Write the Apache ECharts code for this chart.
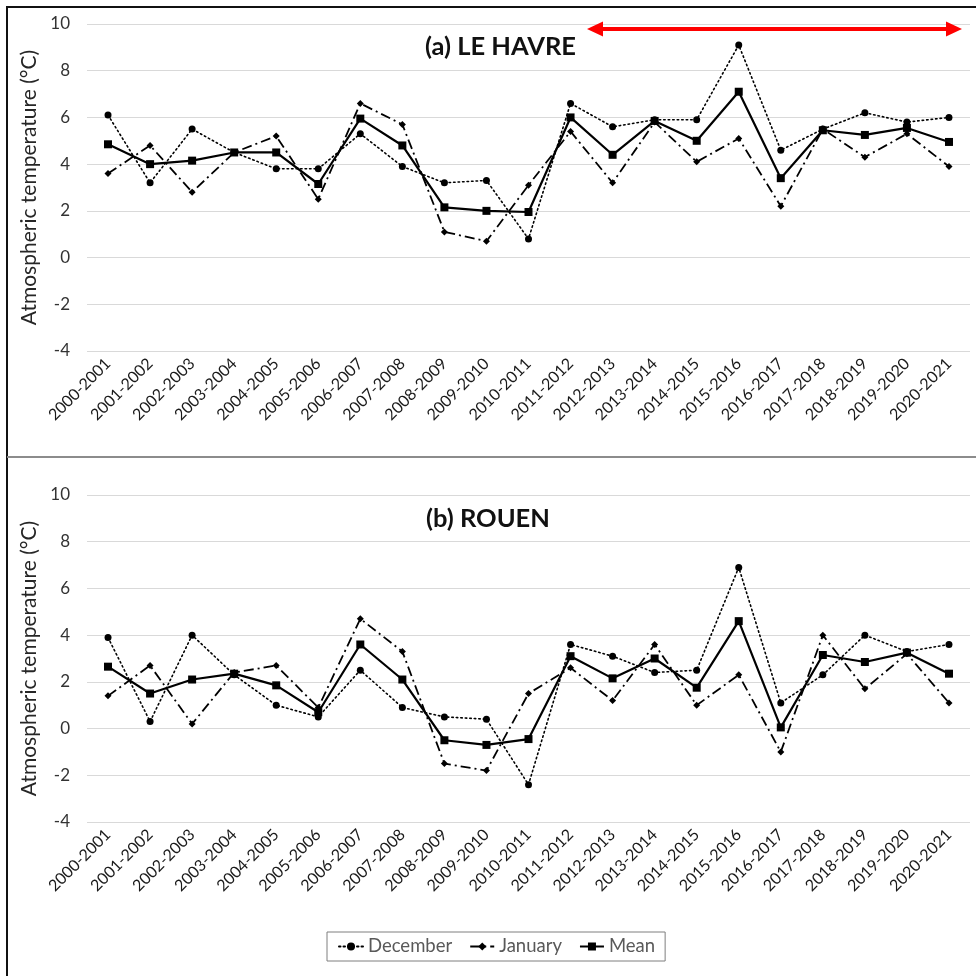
<!DOCTYPE html>
<html>
<head>
<meta charset="utf-8">
<script src="https://cdn.jsdelivr.net/npm/echarts@6/dist/echarts.min.js"></script>
<style>
  html, body { margin: 0; padding: 0; background: #ffffff; }
  #chart { width: 976px; height: 976px; }
</style>
</head>
<body>
<div id="chart"></div>
<script>
// Winter seasons on the category axis
const seasons = ['2000-2001','2001-2002','2002-2003','2003-2004','2004-2005','2005-2006','2006-2007',
  '2007-2008','2008-2009','2009-2010','2010-2011','2011-2012','2012-2013','2013-2014','2014-2015',
  '2015-2016','2016-2017','2017-2018','2018-2019','2019-2020','2020-2021'];

// Le Havre, mean atmospheric temperature (°C)
const leHavreDecember = [6.1,3.2,5.5,4.5,3.8,3.8,5.3,3.9,3.2,3.3,0.8,6.6,5.6,5.9,5.9,9.1,4.6,5.5,6.2,5.8,6.0];
const leHavreJanuary  = [3.6,4.8,2.8,4.5,5.2,2.5,6.6,5.7,1.1,0.7,3.1,5.4,3.2,5.8,4.1,5.1,2.2,5.5,4.3,5.3,3.9];
const leHavreMean     = [4.85,4.0,4.15,4.5,4.5,3.15,5.95,4.8,2.15,2.0,1.95,6.0,4.4,5.85,5.0,7.1,3.4,5.45,5.25,5.55,4.95];

// Rouen, mean atmospheric temperature (°C)
const rouenDecember = [3.9,0.3,4.0,2.3,1.0,0.5,2.5,0.9,0.5,0.4,-2.4,3.6,3.1,2.4,2.5,6.9,1.1,2.3,4.0,3.3,3.6];
const rouenJanuary  = [1.4,2.7,0.2,2.4,2.7,0.9,4.7,3.3,-1.5,-1.8,1.5,2.6,1.2,3.6,1.0,2.3,-1.0,4.0,1.7,3.2,1.1];
const rouenMean     = [2.65,1.5,2.1,2.35,1.85,0.7,3.6,2.1,-0.5,-0.7,-0.45,3.1,2.15,3.0,1.75,4.6,0.05,3.15,2.85,3.25,2.35];

// Temperature axis ticks
const tempMin = -4, tempMax = 10, tempStep = 2;

const FONT = 'Lato, "Open Sans", sans-serif';
const INK = '#000000';

const styles = {
  December: { symbol: 'circle', symbolSize: 7, lineStyle: { type: [1.5, 3], width: 1.6, cap: 'round' } },
  January:  { symbol: 'diamond', symbolSize: 7, lineStyle: { type: [10, 4, 2, 4], width: 1.8 } },
  Mean:     { symbol: 'rect', symbolSize: 8, lineStyle: { type: 'solid', width: 2.2 } }
};

function makeSeries(name, data, idx) {
  const s = styles[name];
  return {
    name: name, type: 'line', data: data,
    xAxisIndex: idx, yAxisIndex: idx,
    symbol: s.symbol, symbolSize: s.symbolSize, showSymbol: true,
    itemStyle: { color: INK },
    lineStyle: Object.assign({ color: INK }, s.lineStyle),
    z: name === 'Mean' ? 4 : 3,
    animation: false
  };
}

function xAxis(idx) {
  return {
    type: 'category', gridIndex: idx, data: seasons, boundaryGap: true,
    axisLine: { show: false }, axisTick: { show: false },
    axisLabel: { rotate: 45, interval: 0, margin: 10, color: '#1a1a1a', fontFamily: FONT, fontSize: 16 }
  };
}

function yAxis(idx) {
  return {
    type: 'value', gridIndex: idx, min: tempMin, max: tempMax, interval: tempStep,
    name: 'Atmospheric temperature (°C)', nameLocation: 'middle', nameGap: 33,
    nameTextStyle: { fontFamily: FONT, fontSize: 21, color: '#262626' },
    axisLine: { show: false }, axisTick: { show: false },
    axisLabel: { margin: 17, color: '#333333', fontFamily: FONT, fontSize: 17 },
    splitLine: { lineStyle: { color: '#d9d9d9', width: 1.2 } }
  };
}

const chart = echarts.init(document.getElementById('chart'), null, { renderer: 'canvas' });

chart.setOption({
  backgroundColor: '#ffffff',
  animation: false,
  grid: [
    { left: 87, right: 6, top: 24, height: 327 },
    { left: 87, right: 6, top: 495, height: 327 }
  ],
  xAxis: [xAxis(0), xAxis(1)],
  yAxis: [yAxis(0), yAxis(1)],
  title: [
    { text: '(a) LE HAVRE', left: 420, top: 29, textStyle: { fontFamily: FONT, fontSize: 25.5, fontWeight: 'bold', color: '#111' } },
    { text: '(b) ROUEN', left: 421, top: 501, textStyle: { fontFamily: FONT, fontSize: 25.5, fontWeight: 'bold', color: '#111' } }
  ],
  legend: {
    data: ['December', 'January', 'Mean'],
    left: 327, top: 932,
    itemWidth: 24, itemHeight: 10, itemGap: 17,
    padding: [5, 10, 5, 11],
    borderColor: '#7f7f7f', borderWidth: 1,
    textStyle: { fontFamily: FONT, fontSize: 18.5, color: '#595959' }
  },
  series: [
    makeSeries('December', leHavreDecember, 0),
    makeSeries('January', leHavreJanuary, 0),
    makeSeries('Mean', leHavreMean, 0),
    makeSeries('December', rouenDecember, 1),
    makeSeries('January', rouenJanuary, 1),
    makeSeries('Mean', rouenMean, 1)
  ],
  graphic: [
    // panel frame
    { type: 'line', shape: { x1: 7, y1: 7, x2: 976, y2: 7 }, style: { stroke: '#111', lineWidth: 2 } },
    { type: 'line', shape: { x1: 7, y1: 6, x2: 7, y2: 976 }, style: { stroke: '#111', lineWidth: 2 } },
    { type: 'line', shape: { x1: 7, y1: 457, x2: 976, y2: 457 }, style: { stroke: '#8c8c8c', lineWidth: 2 } },
    // red double arrow marking the recent period
    { type: 'polygon', z: 10,
      shape: { points: [[587, 29], [603, 21.5], [603, 27], [946, 27], [946, 21.5], [962, 29], [946, 36.5], [946, 31], [603, 31], [603, 36.5]] },
      style: { fill: '#ff0000' } }
  ]
});
</script>
</body>
</html>
